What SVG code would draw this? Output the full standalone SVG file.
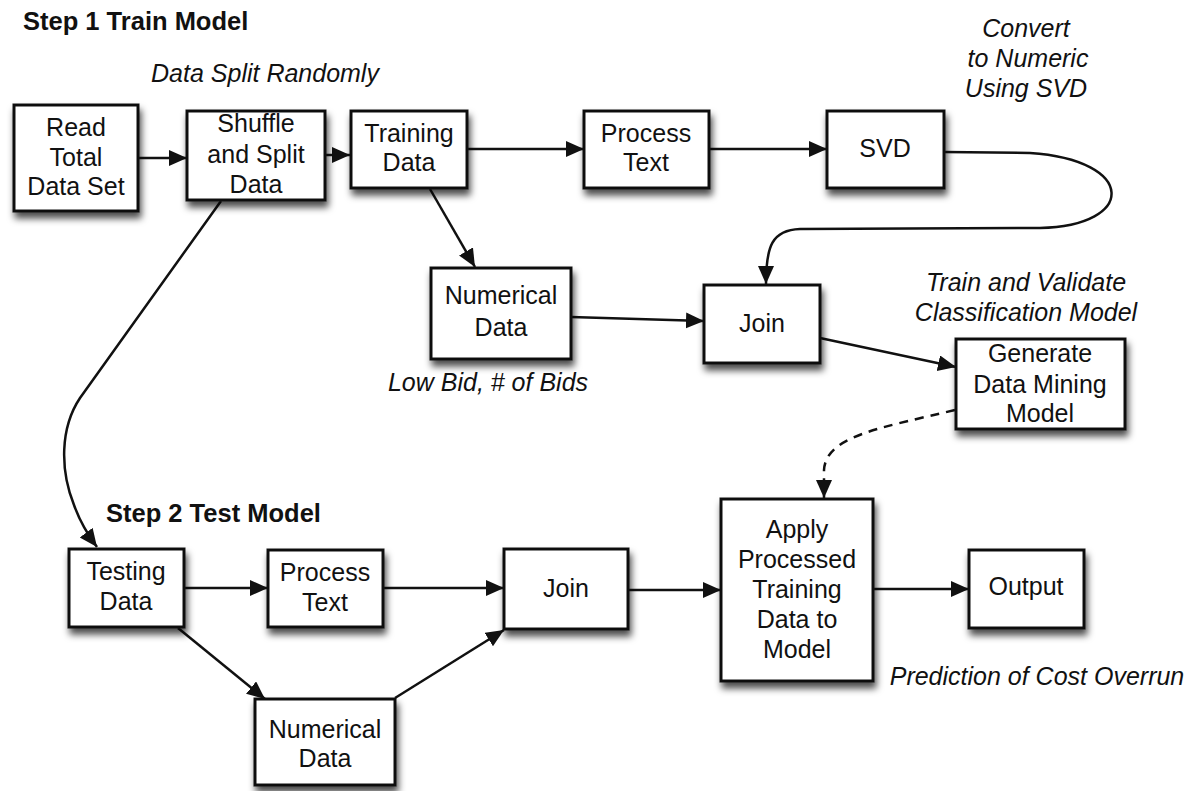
<svg xmlns="http://www.w3.org/2000/svg" width="1197" height="791" viewBox="0 0 1197 791">
  <style>
    text { font-family: "Liberation Sans", Arial, sans-serif; font-size: 25px; fill: #111; }
    .lbl { text-anchor: middle; }
    .note { font-style: italic; text-anchor: middle; }
    .step { font-weight: bold; font-size: 25.5px; }
    .box { fill: #fff; stroke: #111; stroke-width: 3; filter: url(#shadow); }
    .edge { fill: none; stroke: #111; stroke-width: 2.5; marker-end: url(#arrow); }
    .dashed { stroke-dasharray: 9 7; }
  </style>
  <defs>
    <filter id="shadow" x="-20%" y="-20%" width="150%" height="160%">
      <feDropShadow dx="2" dy="6" stdDeviation="3.5" flood-color="#000" flood-opacity="0.7"/>
    </filter>
    <marker id="arrow" markerUnits="userSpaceOnUse" markerWidth="20" markerHeight="18" refX="18" refY="8" orient="auto">
      <path d="M0,0 L18,8 L0,16 z" fill="#111"/>
    </marker>
  </defs>

  <rect width="1197" height="791" fill="#fff"/>

  <!-- section titles and annotations -->
  <text class="step" x="23" y="30">Step 1 Train Model</text>
  <text class="step" x="106" y="522">Step 2 Test Model</text>
  <text class="note" x="265" y="82">Data Split Randomly</text>
  <text class="note" x="1026" y="37">Convert</text>
  <text class="note" x="1028" y="67">to Numeric</text>
  <text class="note" x="1026" y="97">Using SVD</text>
  <text class="note" x="488" y="391">Low Bid, # of Bids</text>
  <text class="note" x="1026" y="291">Train and Validate</text>
  <text class="note" x="1026" y="321">Classification Model</text>
  <text class="note" x="1037" y="685">Prediction of Cost Overrun</text>

  <!-- connectors -->
  <g id="connectors">
    <path class="edge" d="M138,158 L187,158"/>
    <path class="edge" d="M325,155 L350,155"/>
    <path class="edge" d="M467,149 L584,149"/>
    <path class="edge" d="M709,149 L827,149"/>
    <path class="edge" d="M944,152 L1030,153 C1137,160 1137,226 1040,228 L800,229 C772,230 766,246 766,284"/>
    <path class="edge" d="M430,189 L475,267"/>
    <path class="edge" d="M571,317 L704,321"/>
    <path class="edge" d="M820,338 L956,367"/>
    <path class="edge dashed" d="M955,410 C880,428 826,436 824,470 L824,498"/>
    <path class="edge" d="M221,201 L80,398 C60,428 60,470 74,505 C80,522 88,535 97,547"/>
    <path class="edge" d="M184,588 L268,588"/>
    <path class="edge" d="M178,628 L265,699"/>
    <path class="edge" d="M383,588 L504,588"/>
    <path class="edge" d="M395,698 L504,630"/>
    <path class="edge" d="M628,590 L721,590"/>
    <path class="edge" d="M873,589 L969,589"/>
  </g>

  <!-- step 1 nodes -->
  <g id="read-total">
    <rect class="box" x="14" y="105" width="124" height="106"/>
    <text class="lbl" x="76" y="136">Read</text>
    <text class="lbl" x="76" y="166">Total</text>
    <text class="lbl" x="76" y="195">Data Set</text>
  </g>
  <g id="shuffle-split">
    <rect class="box" x="187" y="111" width="138" height="89"/>
    <text class="lbl" x="256" y="132">Shuffle</text>
    <text class="lbl" x="256" y="163">and Split</text>
    <text class="lbl" x="256" y="193">Data</text>
  </g>
  <g id="training-data">
    <rect class="box" x="351" y="111" width="116" height="77"/>
    <text class="lbl" x="409" y="142">Training</text>
    <text class="lbl" x="409" y="171">Data</text>
  </g>
  <g id="process-text-1">
    <rect class="box" x="584" y="111" width="125" height="77"/>
    <text class="lbl" x="646" y="142">Process</text>
    <text class="lbl" x="646" y="171">Text</text>
  </g>
  <g id="svd">
    <rect class="box" x="827" y="111" width="117" height="77"/>
    <text class="lbl" x="885" y="157">SVD</text>
  </g>
  <g id="numerical-data-1">
    <rect class="box" x="431" y="268" width="140" height="91"/>
    <text class="lbl" x="501" y="304">Numerical</text>
    <text class="lbl" x="501" y="336">Data</text>
  </g>
  <g id="join-1">
    <rect class="box" x="704" y="285" width="116" height="78"/>
    <text class="lbl" x="762" y="332">Join</text>
  </g>
  <g id="generate-model">
    <rect class="box" x="956" y="339" width="169" height="90"/>
    <text class="lbl" x="1040" y="362">Generate</text>
    <text class="lbl" x="1040" y="393">Data Mining</text>
    <text class="lbl" x="1040" y="422">Model</text>
  </g>

  <!-- step 2 nodes -->
  <g id="testing-data">
    <rect class="box" x="69" y="549" width="115" height="78"/>
    <text class="lbl" x="126" y="580">Testing</text>
    <text class="lbl" x="126" y="610">Data</text>
  </g>
  <g id="process-text-2">
    <rect class="box" x="268" y="550" width="115" height="77"/>
    <text class="lbl" x="325" y="581">Process</text>
    <text class="lbl" x="325" y="611">Text</text>
  </g>
  <g id="numerical-data-2">
    <rect class="box" x="255" y="699" width="140" height="86"/>
    <text class="lbl" x="325" y="738">Numerical</text>
    <text class="lbl" x="325" y="767">Data</text>
  </g>
  <g id="join-2">
    <rect class="box" x="504" y="549" width="124" height="80"/>
    <text class="lbl" x="566" y="597">Join</text>
  </g>
  <g id="apply-model">
    <rect class="box" x="721" y="499" width="152" height="182"/>
    <text class="lbl" x="797" y="538">Apply</text>
    <text class="lbl" x="797" y="568">Processed</text>
    <text class="lbl" x="797" y="598">Training</text>
    <text class="lbl" x="797" y="628">Data to</text>
    <text class="lbl" x="797" y="658">Model</text>
  </g>
  <g id="output">
    <rect class="box" x="969" y="550" width="115" height="78"/>
    <text class="lbl" x="1026" y="595">Output</text>
  </g>
</svg>
